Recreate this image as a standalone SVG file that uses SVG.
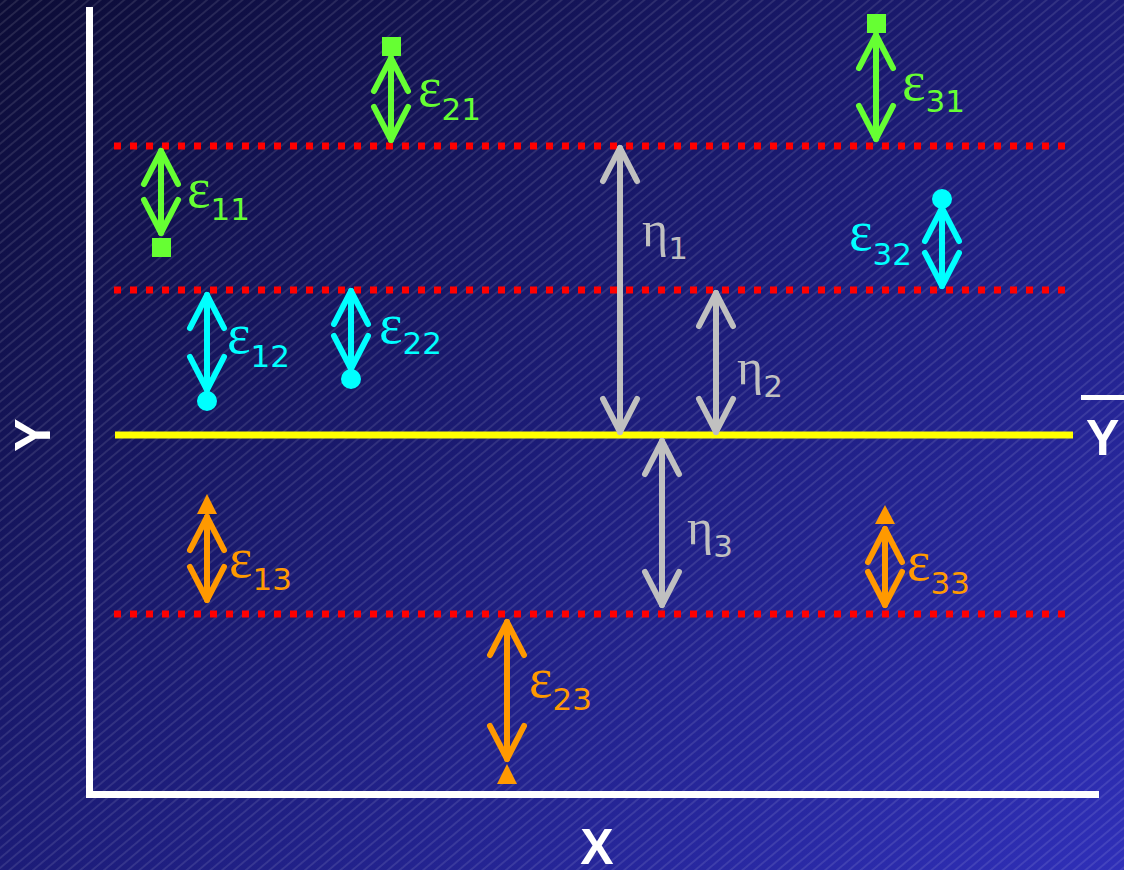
<svg xmlns="http://www.w3.org/2000/svg" width="1124" height="870" viewBox="0 0 1124 870">
  <defs>
    <linearGradient id="bg" x1="0" y1="0" x2="1" y2="1">
      <stop offset="0" stop-color="#0c0c36"/>
      <stop offset="0.5" stop-color="#1c1c78"/>
      <stop offset="1" stop-color="#2f2fb8"/>
    </linearGradient>
    <pattern id="hatch" patternUnits="userSpaceOnUse" width="20" height="7.6" patternTransform="rotate(-40)">
      <line x1="0" y1="3.8" x2="20" y2="3.8" stroke="#ffffff" stroke-opacity="0.22" stroke-width="0.9"/>
    </pattern>
    <marker id="hg" markerUnits="userSpaceOnUse" markerWidth="50" markerHeight="50" viewBox="-40 -25 50 50" refX="0" refY="0" orient="auto-start-reverse" overflow="visible">
      <path d="M-33,-17 L0,0 L-33,17" fill="none" stroke="#66ff33" stroke-width="6" stroke-linecap="round" stroke-linejoin="round"/>
    </marker>
    <marker id="hc" markerUnits="userSpaceOnUse" markerWidth="50" markerHeight="50" viewBox="-40 -25 50 50" refX="0" refY="0" orient="auto-start-reverse" overflow="visible">
      <path d="M-33,-17 L0,0 L-33,17" fill="none" stroke="#00ffff" stroke-width="6" stroke-linecap="round" stroke-linejoin="round"/>
    </marker>
    <marker id="ho" markerUnits="userSpaceOnUse" markerWidth="50" markerHeight="50" viewBox="-40 -25 50 50" refX="0" refY="0" orient="auto-start-reverse" overflow="visible">
      <path d="M-33,-17 L0,0 L-33,17" fill="none" stroke="#ff9900" stroke-width="6" stroke-linecap="round" stroke-linejoin="round"/>
    </marker>
    <marker id="hs" markerUnits="userSpaceOnUse" markerWidth="50" markerHeight="50" viewBox="-40 -25 50 50" refX="0" refY="0" orient="auto-start-reverse" overflow="visible">
      <path d="M-33,-17 L0,0 L-33,17" fill="none" stroke="#c0c0c0" stroke-width="6" stroke-linecap="round" stroke-linejoin="round"/>
    </marker>
  </defs>
  <style>
    .arr { stroke-width: 6; stroke-linecap: round; fill: none; }
    .g { stroke: #66ff33; marker-start: url(#hg); marker-end: url(#hg); }
    .c { stroke: #00ffff; marker-start: url(#hc); marker-end: url(#hc); }
    .o { stroke: #ff9900; marker-start: url(#ho); marker-end: url(#ho); }
    .s { stroke: #c0c0c0; marker-start: url(#hs); marker-end: url(#hs); }
    .lbl { font-family: "Liberation Serif", "DejaVu Serif", serif; font-size: 56px; }
    .eta { font-family: "Liberation Serif", "DejaVu Serif", serif; font-size: 50px; }
    .sub { font-family: "DejaVu Sans", Verdana, sans-serif; font-size: 31px; }
    .tg { fill: #66ff33; } .tc { fill: #00ffff; } .to { fill: #ff9900; } .ts { fill: #c0c0c0; }
    .ax { font-family: "Liberation Sans", Arial, sans-serif; font-weight: bold; font-size: 50px; fill: #ffffff; }
    .dot { stroke: #ff0000; stroke-width: 7; stroke-dasharray: 7 9; fill: none; }
  </style>

  <rect x="0" y="0" width="1124" height="870" fill="url(#bg)"/>
  <rect x="0" y="0" width="1124" height="870" fill="url(#hatch)"/>

  <g id="axes">
    <rect x="86" y="7" width="7" height="790" fill="#ffffff"/>
    <rect x="86" y="791" width="1013" height="7" fill="#ffffff"/>
    <text class="ax" transform="translate(50,435) rotate(-90)" text-anchor="middle">Y</text>
    <text class="ax" x="597" y="864" text-anchor="middle">X</text>
  </g>

  <g id="levels">
    <line class="dot" x1="114" y1="146" x2="1066" y2="146"/>
    <line class="dot" x1="114" y1="290" x2="1066" y2="290"/>
    <line class="dot" x1="114" y1="614" x2="1066" y2="614"/>
  </g>

  <g id="mean">
    <rect x="115" y="431.5" width="958" height="7" fill="#ffff00"/>
    <rect x="1081" y="395" width="43" height="5" fill="#ffffff"/>
    <text class="ax" x="1086" y="455">Y</text>
  </g>

  <g id="points">
    <rect x="152" y="238" width="19" height="19" fill="#66ff33"/>
    <rect x="382" y="37" width="19" height="19" fill="#66ff33"/>
    <rect x="867" y="14" width="19" height="19" fill="#66ff33"/>
    <circle cx="207" cy="401" r="10" fill="#00ffff"/>
    <circle cx="351" cy="379" r="10" fill="#00ffff"/>
    <circle cx="942" cy="199" r="10" fill="#00ffff"/>
    <polygon points="207,494 217,514 197,514" fill="#ff9900"/>
    <polygon points="507,764 517,784 497,784" fill="#ff9900"/>
    <polygon points="885,505 895,524 875,524" fill="#ff9900"/>
  </g>

  <g id="connectors">
    <line class="arr g" x1="161" y1="151" x2="161" y2="233"/>
    <line class="arr g" x1="391" y1="58" x2="391" y2="140"/>
    <line class="arr g" x1="876" y1="35" x2="876" y2="139"/>
    <line class="arr c" x1="207" y1="295" x2="207" y2="390"/>
    <line class="arr c" x1="351" y1="291" x2="351" y2="369"/>
    <line class="arr c" x1="942" y1="208" x2="942" y2="286"/>
    <line class="arr o" x1="207" y1="517" x2="207" y2="600"/>
    <line class="arr o" x1="507" y1="622" x2="507" y2="759"/>
    <line class="arr o" x1="885" y1="529" x2="885" y2="605"/>
    <line class="arr s" x1="620" y1="148" x2="620" y2="432"/>
    <line class="arr s" x1="716" y1="293" x2="716" y2="432"/>
    <line class="arr s" x1="662" y1="441" x2="662" y2="605"/>
  </g>

  <g id="labels">
    <text class="lbl tg" x="187" y="207">ε<tspan class="sub" dy="13">11</tspan></text>
    <text class="lbl tg" x="418" y="106">ε<tspan class="sub" dy="14">21</tspan></text>
    <text class="lbl tg" x="902" y="100">ε<tspan class="sub" dy="12">31</tspan></text>
    <text class="lbl tc" x="227" y="353">ε<tspan class="sub" dy="14">12</tspan></text>
    <text class="lbl tc" x="379" y="343">ε<tspan class="sub" dy="11">22</tspan></text>
    <text class="lbl tc" x="849" y="250">ε<tspan class="sub" dy="15">32</tspan></text>
    <text class="lbl to" x="229" y="577">ε<tspan class="sub" dy="13">13</tspan></text>
    <text class="lbl to" x="529" y="697">ε<tspan class="sub" dy="13">23</tspan></text>
    <text class="lbl to" x="907" y="580">ε<tspan class="sub" dy="14">33</tspan></text>
    <text class="eta ts" x="642" y="246">η<tspan class="sub" dy="13">1</tspan></text>
    <text class="eta ts" x="737" y="384">η<tspan class="sub" dy="13">2</tspan></text>
    <text class="eta ts" x="687" y="544">η<tspan class="sub" dy="13">3</tspan></text>
  </g>
</svg>
